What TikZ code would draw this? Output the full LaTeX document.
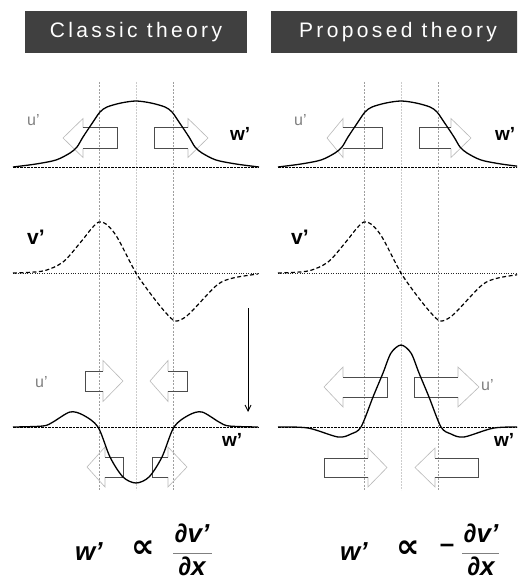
\documentclass[tikz,border=0pt]{standalone}
\usepackage{fontspec}
\setmainfont{Liberation Sans}
\newfontfamily\symf{DejaVu Sans}
\usetikzlibrary{arrows.meta}
\tikzset{
  gridl/.style={gray!75, line width=0.5pt, dash pattern=on 2pt off 1.5pt},
  gridc/.style={gray!40, line width=0.8pt, dash pattern=on 2pt off 1pt},
  basel/.style={black, line width=0.6pt, dash pattern=on 2.5pt off 1pt},
  based/.style={black!85, line width=0.7pt, dash pattern=on 0.8pt off 1.6pt},
  curv/.style={black, line width=1.3pt},
  dcurv/.style={black, line width=1.2pt, dash pattern=on 4pt off 2.5pt},
  headc/.style={gray!55, line width=0.6pt},
  bodyc/.style={black!70, line width=0.6pt},
  ttl/.style={fill=black!75, text=white, minimum height=42pt, inner sep=0pt,
    font=\fontsize{21}{21}\selectfont\addfontfeatures{LetterSpace=16}},
  ulab/.style={anchor=base west, inner sep=0pt, text=gray, font=\fontsize{16}{16}\selectfont},
  blab/.style={anchor=base west, inner sep=0pt, font=\bfseries\fontsize{19}{19}\selectfont},
  eqf/.style={inner sep=0pt, font=\bfseries\itshape\fontsize{26}{26}\selectfont},
  propf/.style={inner sep=0pt, font=\symf\bfseries\fontsize{33}{33}\selectfont},
}
\newcommand\blockarr[6]{%
  \draw[headc] (#3,#2-#6) -- (#3,#2-#5) -- (#1,#2) -- (#3,#2+#5) -- (#3,#2+#6);
  \draw[bodyc] (#3,#2-#6) -- (#4,#2-#6) -- (#4,#2+#6) -- (#3,#2+#6);
}
\begin{document}
\begin{tikzpicture}[x=1pt,y=-1pt]
\useasboundingbox (0,0) rectangle (517,583);
\clip (0,0) rectangle (517,583);
\fill[white] (0,0) rectangle (517,583);
% titles
\node[ttl, minimum width=222pt] (t1) at (136,32) {Classic theory};
\node[ttl, minimum width=254pt] (t2) at (398,32) {Proposed theory};
% grid lines
\foreach \cx in {136,401}{
  \draw[gridl] (\cx-37,82) -- (\cx-37,490);
  \draw[gridl] (\cx+37,82) -- (\cx+37,490);
  \draw[gridc] (\cx,82) -- (\cx,490);
  \draw[basel] (\cx-123,167) -- (\cx+123,167);
  \draw[based] (\cx-123,273) -- (\cx+123,273);
  \draw[basel] (\cx-123,427) -- (\cx+123,427);
}
% block arrows
\blockarr{63}{138}{83}{117}{19.5}{10.5}
\blockarr{208}{138}{188}{154}{19.5}{10.5}
\blockarr{327}{138}{343}{382}{19.5}{10.5}
\blockarr{471}{138}{451}{419}{19.5}{10.5}
\blockarr{123}{381}{103}{85}{20.5}{10}
\blockarr{150}{381}{168}{187}{20.5}{10}
\blockarr{87}{467}{105}{123}{20}{10}
\blockarr{187}{467}{168}{152}{20}{10}
\blockarr{324}{387}{343}{387}{20}{10}
\blockarr{479}{387}{458}{414}{20}{10}
\blockarr{387}{467.5}{368}{324}{19.5}{9.5}
\blockarr{415}{467.5}{435}{478}{19.5}{9.5}
% curves top and middle
\foreach \cx in {136,401}{
\begin{scope}[shift={(\cx,0)}]
  \draw[curv] plot[smooth, tension=0.5] coordinates {(-123,167) (-100,164) (-80,160) (-66,153) (-59,147) (-53,137) (-43,122) (-36,112) (-29,107) (-15,103) (0,101) (15,103) (29,107) (36,112) (43,122) (53,137) (59,147) (66,153) (80,160) (100,164) (123,167)};
  \draw[dcurv] plot[smooth, tension=0.5] coordinates {(-123,273) (-93,271) (-73,262) (-56,243) (-44,228) (-37,222) (-30,224) (-19,237) (0,273) (17,297) (30,313) (39,321) (48,318) (57,310) (81,285) (97,278) (122,274)};
\end{scope}}
% bottom curves
\begin{scope}[shift={(136,0)}]
  \draw[curv] plot[smooth, tension=0.5] coordinates {(-123,427) (-93,426) (-83,422) (-66,412) (-53,415) (-38,427) (-26,457) (-13,477) (0,483) (13,477) (26,457) (38,427) (53,415) (66,412) (83,422) (93,426) (122,427)};
\end{scope}
\begin{scope}[shift={(401,0)}]
  \draw[curv] plot[smooth, tension=0.5] coordinates {(-123,427) (-93,428) (-63,437) (-50,434) (-40,427) (-28,397) (-18,373) (-10,353) (0,345) (10,353) (18,373) (28,397) (40,427) (50,434) (63,437) (93,428) (123,427)};
\end{scope}
% vertical arrow
\coordinate (va1) at (248,308);
\coordinate (va2) at (248,412);
\draw[line width=0.9pt, -{Straight Barb[length=6pt,width=6pt]}] (va1) -- (va2);
% labels
\node[ulab] (u1) at (27,125) {u’};
\node[ulab] (u2) at (294,125) {u’};
\node[ulab] (u3) at (35,387) {u’};
\node[ulab] (u4) at (481,390) {u’};
\node[blab] (w1) at (230,140) {w’};
\node[blab] (w2) at (495,140) {w’};
\node[blab] (w3) at (222,446) {w’};
\node[blab] (w4) at (494,446) {w’};
\node[blab, font=\bfseries\fontsize{21}{21}\selectfont] (v1) at (27,244) {v’};
\node[blab, font=\bfseries\fontsize{21}{21}\selectfont] (v2) at (291,244) {v’};
% equations
\node[eqf, anchor=base west] (eqw1) at (75,560) {w’};
\node[propf] (pr1) at (143,549) {∝};
\node[eqf, anchor=base] (n1) at (192,542) {∂v’};
\node[eqf, anchor=base] (d1) at (192,575) {∂x};
\draw[gray, line width=0.8pt] (173,553) -- (212,553);
\node[eqf, anchor=base west] (eqw2) at (340,560) {w’};
\node[propf] (pr2) at (408,549) {∝};
\node[eqf, font=\bfseries\fontsize{26}{26}\selectfont] (mi2) at (447,548) {–};
\node[eqf, anchor=base] (n2) at (481,542) {∂v’};
\node[eqf, anchor=base] (d2) at (481,575) {∂x};
\draw[gray, line width=0.8pt] (462,553) -- (499,553);
\end{tikzpicture}
\end{document}
